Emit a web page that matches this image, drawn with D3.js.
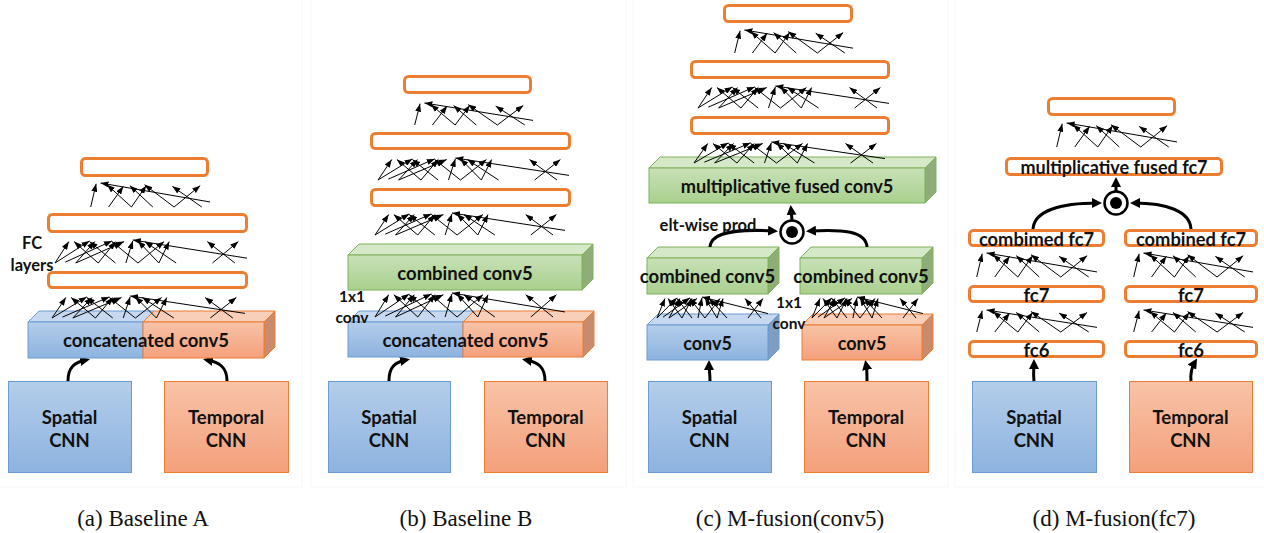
<!DOCTYPE html>
<html lang="en">
<head>
<meta charset="UTF-8" />
<title>Two-stream fusion architectures</title>
<style>
  body { margin: 0; background: #fff; }
  svg { display: block; }
  .lbl { font-family: Lato, "Open Sans", sans-serif; font-weight: bold; fill: #111; }
  .cap { font-family: "Liberation Serif", "DejaVu Serif", serif; font-size: 23px; fill: #111; }
</style>
</head>
<body>
<svg width="1264" height="533"></svg>
<script src="https://d3js.org/d3.v7.min.js"></script>
<script>
// ---- labels ----
const captions = ["(a) Baseline A", "(b) Baseline B", "(c) M-fusion(conv5)", "(d) M-fusion(fc7)"];
const streamNames = ["Spatial", "Temporal"];
const cnnLabel = "CNN";
const convLabels = ["concatenated conv5", "combined conv5", "multiplicative fused conv5", "conv5"];
const fcLabels = ["fc6", "fc7", "combimed fc7", "combined fc7", "multiplicative fused fc7"];
const noteLabels = ["FC", "layers", "1x1", "conv", "elt-wise prod"];

// ---- arrow nets, [u0, v0, u1, v1] in 0..1 of the net's box (head at u1,v1) ----
const narrowNet = [
  [0.014, 1.00, 0.059, 0.03],
  [0.351, 1.00, 0.149, 0.07],
  [0.162, 1.00, 0.284, 0.14],
  [0.351, 1.00, 0.473, 0.11],
  [0.527, 1.00, 0.338, 0.11],
  [0.703, 1.00, 0.459, 0.07],
  [0.703, 1.00, 0.919, 0.11],
  [0.932, 1.00, 0.689, 0.14],
  [1.000, 0.79, 0.095, 0.00]
];
const wideNet = [
  [0.000, 1.00, 0.072, 0.07],
  [0.000, 1.00, 0.180, 0.04],
  [0.054, 0.96, 0.297, 0.04],
  [0.108, 1.00, 0.207, 0.07],
  [0.108, 1.00, 0.360, 0.07],
  [0.225, 1.00, 0.099, 0.07],
  [0.225, 1.00, 0.315, 0.07],
  [0.315, 1.00, 0.180, 0.07],
  [0.369, 1.00, 0.405, 0.04],
  [0.432, 1.00, 0.297, 0.07],
  [0.432, 1.00, 0.568, 0.07],
  [0.541, 1.00, 0.432, 0.04],
  [0.541, 1.00, 0.595, 0.07],
  [0.631, 1.00, 0.468, 0.07],
  [0.820, 1.00, 0.955, 0.07],
  [0.937, 1.00, 0.793, 0.07],
  [1.000, 0.79, 0.405, 0.00]
];

const svg = d3.select("svg");
const defs = svg.append("defs");

function grad(id, c0, c1) {
  const lg = defs.append("linearGradient").attr("id", id)
    .attr("x1", 0).attr("y1", 0).attr("x2", 0).attr("y2", 1);
  lg.append("stop").attr("offset", "0%").attr("stop-color", c0);
  lg.append("stop").attr("offset", "100%").attr("stop-color", c1);
}
grad("gBlue", "#b4cdea", "#8db3df");
grad("gOrange", "#f8c3a8", "#f4a07b");
grad("gGreen", "#c8e1b7", "#a9d08e");

function marker(id, len, wid, ref) {
  defs.append("marker").attr("id", id)
    .attr("viewBox", `0 0 ${len} ${wid}`)
    .attr("refX", ref).attr("refY", wid / 2)
    .attr("markerWidth", len).attr("markerHeight", wid)
    .attr("markerUnits", "userSpaceOnUse").attr("orient", "auto")
    .append("path").attr("d", `M0,0L${len},${wid / 2}L0,${wid}Z`).attr("fill", "#000");
}
marker("mThin", 8, 6, 8);
marker("mThick", 10, 10, 6);

const col = {
  blue:   { front: "url(#gBlue)",   top: "#c6d9f0", side: "#7f9dc2", line: "#6a9bd3" },
  orange: { front: "url(#gOrange)", top: "#f9cfb9", side: "#c98b6d", line: "#ed7d31" },
  green:  { front: "url(#gGreen)",  top: "#d5e9c8", side: "#8fad79", line: "#7fb25a" }
};
const D = 11; // depth of 3d blocks

// faint panel frames
const frames = [[-1, 302], [311, 626], [633, 948], [955, 1270]];
svg.append("g").selectAll("rect").data(frames).join("rect")
  .attr("x", d => d[0]).attr("y", -1).attr("width", d => d[1] - d[0]).attr("height", 488)
  .attr("fill", "none").attr("stroke", "#f7f7f7");

const g = svg.append("g");

function text(t, x, y, size, cls) {
  g.append("text").attr("class", cls || "lbl").attr("x", x).attr("y", y)
    .attr("text-anchor", "middle").attr("dominant-baseline", "central")
    .attr("font-size", size).text(t);
}

function inputBox(b, c, name) {
  g.append("rect").attr("x", b[0] + 0.5).attr("y", b[1] + 0.5).attr("width", b[2]).attr("height", b[3])
    .attr("fill", col[c].front).attr("stroke", col[c].line).attr("stroke-width", 1);
  text(name, b[0] + b[2] / 2, b[1] + 36, 18.5);
  text(cnnLabel, b[0] + b[2] / 2, b[1] + 59, 18.5);
}

function block(x, y, w, h, c, withSide) {
  const k = col[c];
  g.append("path").attr("d", `M${x},${y}L${x + D},${y - D}L${x + w + D},${y - D}L${x + w},${y}Z`)
    .attr("fill", k.top).attr("stroke", k.line).attr("stroke-width", 1);
  if (withSide) {
    g.append("path").attr("d", `M${x + w},${y}L${x + w + D},${y - D}L${x + w + D},${y + h - D}L${x + w},${y + h}Z`)
      .attr("fill", k.side).attr("stroke", k.line).attr("stroke-width", 1);
  }
  g.append("rect").attr("x", x).attr("y", y).attr("width", w).attr("height", h)
    .attr("fill", k.front).attr("stroke", k.line).attr("stroke-width", 1);
}

function block3d(b, c, label, size) {
  block(b[0], b[1], b[2], b[3], c, true);
  if (label) text(label, b[0] + b[2] / 2, b[1] + b[3] / 2, size);
}

function concatBlock(b, split, label) {
  block(b[0], b[1], split, b[3], "blue", false);
  block(b[0] + split, b[1], b[2] - split, b[3], "orange", true);
  text(label, b[0] + b[2] / 2, b[1] + b[3] / 2, 18.5);
}

function fcRect(b, label, size) {
  g.append("rect").attr("x", b[0] + 1.5).attr("y", b[1] + 1.5)
    .attr("width", b[2] - 3).attr("height", b[3] - 3).attr("rx", 4)
    .attr("fill", "#fff").attr("stroke", "#ed7d31").attr("stroke-width", 3);
  if (label) text(label, b[0] + b[2] / 2, b[1] + b[3] / 2 + 0.5, size);
}

function net(pattern, n) {
  const xs = d3.scaleLinear().domain([0, 1]).range([n[0], n[1]]);
  const ys = d3.scaleLinear().domain([0, 1]).range([n[2], n[3]]);
  g.append("g").selectAll("line").data(pattern).join("line")
    .attr("x1", d => xs(d[0])).attr("y1", d => ys(d[1]))
    .attr("x2", d => xs(d[2])).attr("y2", d => ys(d[3]))
    .attr("stroke", "#000").attr("stroke-width", 1).attr("marker-end", "url(#mThin)");
}

function thick(d) {
  g.append("path").attr("d", d).attr("fill", "none").attr("stroke", "#000")
    .attr("stroke-width", 3).attr("marker-end", "url(#mThick)");
}

function odot(x, y) {
  g.append("circle").attr("cx", x).attr("cy", y).attr("r", 11.5)
    .attr("fill", "#fff").attr("stroke", "#000").attr("stroke-width", 2.5);
  g.append("circle").attr("cx", x).attr("cy", y).attr("r", 6).attr("fill", "#000");
}

// ---------- (a) Baseline A ----------
inputBox([8, 381, 123, 91], "blue", streamNames[0]);
inputBox([164, 381, 124, 91], "orange", streamNames[1]);
thick("M68,381C68,367 75,362 86,360");
thick("M227,381C227,367 219,362 207,360");
concatBlock([28, 322, 236, 36], 115, convLabels[0]);
net(wideNet, [52, 245, 296, 318]);
net(wideNet, [55, 247, 240, 263]);
net(narrowNet, [89, 210, 183, 207]);
fcRect([47, 271, 201, 18]);
fcRect([47, 213, 201, 20]);
fcRect([80, 157, 129, 20]);
text(noteLabels[0], 32, 243, 16.5);
text(noteLabels[1], 32, 265, 16.5);

// ---------- (b) Baseline B ----------
inputBox([328, 381, 122, 91], "blue", streamNames[0]);
inputBox([484, 381, 123, 91], "orange", streamNames[1]);
thick("M389,381C389,367 395,362 406,360");
thick("M545,381C545,367 538,362 526,360");
concatBlock([348, 322, 235, 35], 115, convLabels[0]);
block3d([348, 255, 234, 35], "green", convLabels[1], 18.5);
net(wideNet, [375, 565, 293, 317]);
net(wideNet, [375, 565, 213, 235]);
net(wideNet, [378, 569, 158, 180]);
net(narrowNet, [413, 533, 103, 125]);
fcRect([370, 188, 201, 19]);
fcRect([370, 132, 201, 18]);
fcRect([403, 75, 129, 19]);
text(noteLabels[2], 352, 296, 15.5);
text(noteLabels[3], 352, 317, 15.5);

// ---------- (c) M-fusion(conv5) ----------
inputBox([648, 381, 123, 91], "blue", streamNames[0]);
inputBox([804, 381, 124, 91], "orange", streamNames[1]);
thick("M710,381C710,373 709,369 709,364");
thick("M867,381C867,373 867,369 866,364");
block3d([647, 325, 121, 35], "blue", convLabels[3], 18);
block3d([802, 325, 120, 35], "orange", convLabels[3], 18);
net(wideNet, [657, 768, 297, 318]);
net(wideNet, [812, 923, 297, 318]);
block3d([647, 258, 121, 36], "green", convLabels[1], 18.5);
block3d([800, 258, 122, 36], "green", convLabels[1], 18.5);
block3d([649, 168, 276, 35], "green", convLabels[2], 18.2);
odot(792, 232);
thick("M710,247C711,231 740,229 774,231");
thick("M867,247C866,231 842,229 810,231");
thick("M792,220L791,209");
text(noteLabels[4], 708, 225, 16.5);
text(noteLabels[2], 789, 302, 15.5);
text(noteLabels[3], 789, 323, 15.5);
net(wideNet, [694, 885, 142, 163]);
net(wideNet, [698, 889, 86, 108]);
net(narrowNet, [733, 853, 30, 53]);
fcRect([690, 116, 200, 19]);
fcRect([690, 60, 200, 19]);
fcRect([723, 4, 130, 19]);

// ---------- (d) M-fusion(fc7) ----------
inputBox([972, 381, 124, 91], "blue", streamNames[0]);
inputBox([1129, 381, 123, 91], "orange", streamNames[1]);
thick("M1034,381C1033,373 1034,368 1034,363");
thick("M1191,381C1190,372 1192,367 1195,362");
fcRect([968, 340, 137, 18], fcLabels[0], 18.5);
fcRect([1124, 340, 134, 18], fcLabels[0], 18.5);
net(narrowNet, [975, 1097, 310, 332]);
net(narrowNet, [1132, 1253, 310, 332]);
fcRect([968, 285, 137, 18], fcLabels[1], 18.5);
fcRect([1124, 285, 134, 18], fcLabels[1], 18.5);
net(narrowNet, [975, 1097, 253, 277]);
net(narrowNet, [1132, 1253, 253, 277]);
fcRect([968, 229, 137, 18], fcLabels[2], 18.3);
fcRect([1124, 229, 134, 18], fcLabels[3], 18.3);
odot(1116, 203);
thick("M1033,229C1034,211 1060,203 1098,203");
thick("M1191,229C1190,211 1166,203 1134,203");
thick("M1116,191L1116,181");
fcRect([1005, 157, 218, 19], fcLabels[4], 18);
net(narrowNet, [1055, 1177, 123, 147]);
fcRect([1047, 97, 129, 19]);

// ---------- captions ----------
const capX = [143, 466, 790, 1114];
svg.append("g").selectAll("text").data(captions).join("text")
  .attr("class", "cap").attr("x", (d, i) => capX[i]).attr("y", 518)
  .attr("text-anchor", "middle").attr("dominant-baseline", "central").text(d => d);
</script>
</body>
</html>
